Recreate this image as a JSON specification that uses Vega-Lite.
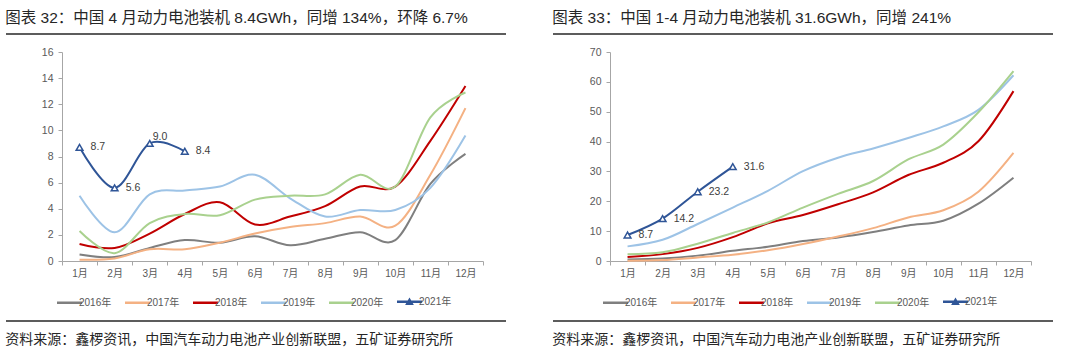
{
  "$schema": "https://vega.github.io/schema/vega-lite/v6.json",
  "background": "white",
  "padding": {"left": 5, "top": 10, "right": 0, "bottom": 0},
  "spacing": 45,
  "config": {
    "font": "Liberation Sans, Noto Sans CJK SC",
    "view": {"stroke": null},
    "title": {"anchor": "start", "fontWeight": "normal", "color": "#262626", "font": "Liberation Sans, Noto Sans CJK SC"},
    "axis": {"domainColor": "#A6A6A6", "tickColor": "#A6A6A6", "labelColor": "#595959", "grid": false, "title": null, "tickSize": 4, "labelOverlap": false, "labelFont": "Liberation Sans, Noto Sans CJK SC"},
    "legend": {"labelFont": "Liberation Sans, Noto Sans CJK SC"}
  },
  "resolve": {"scale": {"color": "independent", "x": "independent", "y": "independent"}, "legend": {"color": "independent"}},
  "datasets": {
    "monthly": [
      {"month": "1月", "year": "2016年", "value": 0.5}, {"month": "2月", "year": "2016年", "value": 0.3}, {"month": "3月", "year": "2016年", "value": 1.0}, {"month": "4月", "year": "2016年", "value": 1.6}, {"month": "5月", "year": "2016年", "value": 1.4}, {"month": "6月", "year": "2016年", "value": 1.9}, {"month": "7月", "year": "2016年", "value": 1.2}, {"month": "8月", "year": "2016年", "value": 1.7}, {"month": "9月", "year": "2016年", "value": 2.2}, {"month": "10月", "year": "2016年", "value": 1.6}, {"month": "11月", "year": "2016年", "value": 5.9}, {"month": "12月", "year": "2016年", "value": 8.2},
      {"month": "1月", "year": "2017年", "value": 0.1}, {"month": "2月", "year": "2017年", "value": 0.2}, {"month": "3月", "year": "2017年", "value": 0.9}, {"month": "4月", "year": "2017年", "value": 0.9}, {"month": "5月", "year": "2017年", "value": 1.4}, {"month": "6月", "year": "2017年", "value": 2.1}, {"month": "7月", "year": "2017年", "value": 2.6}, {"month": "8月", "year": "2017年", "value": 2.9}, {"month": "9月", "year": "2017年", "value": 3.4}, {"month": "10月", "year": "2017年", "value": 2.7}, {"month": "11月", "year": "2017年", "value": 6.6}, {"month": "12月", "year": "2017年", "value": 11.7},
      {"month": "1月", "year": "2018年", "value": 1.3}, {"month": "2月", "year": "2018年", "value": 1.0}, {"month": "3月", "year": "2018年", "value": 2.1}, {"month": "4月", "year": "2018年", "value": 3.6}, {"month": "5月", "year": "2018年", "value": 4.5}, {"month": "6月", "year": "2018年", "value": 2.8}, {"month": "7月", "year": "2018年", "value": 3.4}, {"month": "8月", "year": "2018年", "value": 4.2}, {"month": "9月", "year": "2018年", "value": 5.7}, {"month": "10月", "year": "2018年", "value": 5.7}, {"month": "11月", "year": "2018年", "value": 9.2}, {"month": "12月", "year": "2018年", "value": 13.4},
      {"month": "1月", "year": "2019年", "value": 5.0}, {"month": "2月", "year": "2019年", "value": 2.2}, {"month": "3月", "year": "2019年", "value": 5.1}, {"month": "4月", "year": "2019年", "value": 5.4}, {"month": "5月", "year": "2019年", "value": 5.7}, {"month": "6月", "year": "2019年", "value": 6.6}, {"month": "7月", "year": "2019年", "value": 4.8}, {"month": "8月", "year": "2019年", "value": 3.4}, {"month": "9月", "year": "2019年", "value": 3.9}, {"month": "10月", "year": "2019年", "value": 3.9}, {"month": "11月", "year": "2019年", "value": 5.6}, {"month": "12月", "year": "2019年", "value": 9.6},
      {"month": "1月", "year": "2020年", "value": 2.3}, {"month": "2月", "year": "2020年", "value": 0.6}, {"month": "3月", "year": "2020年", "value": 2.9}, {"month": "4月", "year": "2020年", "value": 3.6}, {"month": "5月", "year": "2020年", "value": 3.5}, {"month": "6月", "year": "2020年", "value": 4.7}, {"month": "7月", "year": "2020年", "value": 5.0}, {"month": "8月", "year": "2020年", "value": 5.1}, {"month": "9月", "year": "2020年", "value": 6.6}, {"month": "10月", "year": "2020年", "value": 5.7}, {"month": "11月", "year": "2020年", "value": 11.0}, {"month": "12月", "year": "2020年", "value": 12.9},
      {"month": "1月", "year": "2021年", "value": 8.7}, {"month": "2月", "year": "2021年", "value": 5.6}, {"month": "3月", "year": "2021年", "value": 9.0}, {"month": "4月", "year": "2021年", "value": 8.4}
    ],
    "cumulative": [
      {"month": "1月", "year": "2016年", "value": 0.5}, {"month": "2月", "year": "2016年", "value": 0.8}, {"month": "3月", "year": "2016年", "value": 1.8}, {"month": "4月", "year": "2016年", "value": 3.4}, {"month": "5月", "year": "2016年", "value": 4.8}, {"month": "6月", "year": "2016年", "value": 6.7}, {"month": "7月", "year": "2016年", "value": 7.9}, {"month": "8月", "year": "2016年", "value": 9.7}, {"month": "9月", "year": "2016年", "value": 11.9}, {"month": "10月", "year": "2016年", "value": 13.5}, {"month": "11月", "year": "2016年", "value": 19.2}, {"month": "12月", "year": "2016年", "value": 27.9},
      {"month": "1月", "year": "2017年", "value": 0.1}, {"month": "2月", "year": "2017年", "value": 0.3}, {"month": "3月", "year": "2017年", "value": 1.2}, {"month": "4月", "year": "2017年", "value": 2.1}, {"month": "5月", "year": "2017年", "value": 3.6}, {"month": "6月", "year": "2017年", "value": 5.7}, {"month": "7月", "year": "2017年", "value": 8.2}, {"month": "8月", "year": "2017年", "value": 11.0}, {"month": "9月", "year": "2017年", "value": 14.6}, {"month": "10月", "year": "2017年", "value": 17.0}, {"month": "11月", "year": "2017年", "value": 23.2}, {"month": "12月", "year": "2017年", "value": 36.2},
      {"month": "1月", "year": "2018年", "value": 1.3}, {"month": "2月", "year": "2018年", "value": 2.3}, {"month": "3月", "year": "2018年", "value": 4.4}, {"month": "4月", "year": "2018年", "value": 8.0}, {"month": "5月", "year": "2018年", "value": 12.6}, {"month": "6月", "year": "2018年", "value": 15.4}, {"month": "7月", "year": "2018年", "value": 19.0}, {"month": "8月", "year": "2018年", "value": 23.0}, {"month": "9月", "year": "2018年", "value": 28.8}, {"month": "10月", "year": "2018年", "value": 32.9}, {"month": "11月", "year": "2018年", "value": 40.1}, {"month": "12月", "year": "2018年", "value": 56.9},
      {"month": "1月", "year": "2019年", "value": 4.9}, {"month": "2月", "year": "2019年", "value": 7.1}, {"month": "3月", "year": "2019年", "value": 12.4}, {"month": "4月", "year": "2019年", "value": 17.9}, {"month": "5月", "year": "2019年", "value": 23.5}, {"month": "6月", "year": "2019年", "value": 30.1}, {"month": "7月", "year": "2019年", "value": 34.6}, {"month": "8月", "year": "2019年", "value": 37.7}, {"month": "9月", "year": "2019年", "value": 41.2}, {"month": "10月", "year": "2019年", "value": 45.1}, {"month": "11月", "year": "2019年", "value": 50.6}, {"month": "12月", "year": "2019年", "value": 62.2},
      {"month": "1月", "year": "2020年", "value": 2.3}, {"month": "2月", "year": "2020年", "value": 2.9}, {"month": "3月", "year": "2020年", "value": 5.8}, {"month": "4月", "year": "2020年", "value": 9.4}, {"month": "5月", "year": "2020年", "value": 12.9}, {"month": "6月", "year": "2020年", "value": 17.9}, {"month": "7月", "year": "2020年", "value": 22.5}, {"month": "8月", "year": "2020年", "value": 26.8}, {"month": "9月", "year": "2020年", "value": 34.0}, {"month": "10月", "year": "2020年", "value": 39.0}, {"month": "11月", "year": "2020年", "value": 49.8}, {"month": "12月", "year": "2020年", "value": 63.6},
      {"month": "1月", "year": "2021年", "value": 8.7}, {"month": "2月", "year": "2021年", "value": 14.2}, {"month": "3月", "year": "2021年", "value": 23.2}, {"month": "4月", "year": "2021年", "value": 31.6}
    ]
  },
  "hconcat": [
    {
      "title": {"text": "图表 32：中国 4 月动力电池装机 8.4GWh，同增 134%，环降 6.7%", "fontSize": 15.5, "offset": 7},
      "vconcat": [
        {
          "width": 500,
          "height": 287,
          "title": {"text": "资料来源：鑫椤资讯，中国汽车动力电池产业创新联盟，五矿证券研究所", "orient": "bottom", "anchor": "start", "fontSize": 14, "offset": 11},
          "layer": [
            {
              "data": {"name": "monthly"},
              "mark": {"type": "line", "interpolate": "cardinal", "strokeWidth": 2},
              "encoding": {
                "x": {"field": "month", "type": "ordinal", "sort": ["1月","2月","3月","4月","5月","6月","7月","8月","9月","10月","11月","12月"], "bandPosition": 0.5,
                      "scale": {"type": "band", "domain": ["1月","2月","3月","4月","5月","6月","7月","8月","9月","10月","11月","12月"], "range": [56, 477], "paddingInner": 0, "paddingOuter": 0},
                      "axis": {"labelAngle": 0, "tickBand": "extent", "offset": -60, "labelFontSize": 10, "labelPadding": 3}},
                "y": {"field": "value", "type": "quantitative", "scale": {"domain": [0, 16], "range": [227, 18], "nice": false, "zero": false},
                      "axis": {"values": [0, 2, 4, 6, 8, 10, 12, 14, 16], "tickCount": 9, "labelOverlap": false, "offset": -56, "labelFontSize": 10.5, "labelPadding": 5}},
                "color": {"field": "year", "type": "nominal",
                          "scale": {"domain": ["2016年","2017年","2018年","2019年","2020年","2021年"], "range": ["#7F7F7F","#F4B183","#C00000","#9DC3E6","#A9D18E","#2F5597"]},
                          "legend": {"orient": "none", "legendX": 56, "legendY": 260, "direction": "horizontal", "title": null, "labelFontSize": 10, "labelColor": "#595959", "symbolSize": 156, "symbolStrokeWidth": 2.5, "labelOffset": 2, "columnPadding": 8, "symbolType": "M-2,0H2",
                                     "encode": {"symbols": {"update": {"fill": {"value": "white"}, "shape": {"signal": "datum.value === '2021年' ? 'M-2,0H2M-0.35,0.3L0,-0.3L0.35,0.3Z' : 'M-2,0H2'"}}}}}}
              }
            },
            {"data": {"values": [{}]}, "mark": {"type": "rule", "color": "#262626", "strokeWidth": 1.5}, "encoding": {"y": {"datum": 17.378, "type": "quantitative"}}},
            {"data": {"values": [{}]}, "mark": {"type": "rule", "color": "#262626", "strokeWidth": 1.5}, "encoding": {"y": {"datum": -4.593, "type": "quantitative"}}},
            {
              "data": {"name": "monthly"},
              "transform": [{"filter": "datum.year === '2021年'"}],
              "mark": {"type": "point", "shape": "triangle-up", "filled": true, "fill": "white", "stroke": "#2F5597", "strokeWidth": 1.5, "size": 45, "opacity": 1},
              "encoding": {
                "x": {"field": "month", "type": "ordinal", "sort": ["1月","2月","3月","4月","5月","6月","7月","8月","9月","10月","11月","12月"], "bandPosition": 0.5},
                "y": {"field": "value", "type": "quantitative"}
              }
            },
            {
              "data": {"name": "monthly"},
              "transform": [{"filter": "datum.year === '2021年' && datum.month !== '3月'"}],
              "mark": {"type": "text", "align": "left", "baseline": "middle", "dx": 11, "fontSize": 10.5, "color": "#404040"},
              "encoding": {
                "x": {"field": "month", "type": "ordinal", "sort": ["1月","2月","3月","4月","5月","6月","7月","8月","9月","10月","11月","12月"], "bandPosition": 0.5},
                "y": {"field": "value", "type": "quantitative"},
                "text": {"field": "value", "type": "quantitative", "format": ".1f"}
              }
            },
            {
              "data": {"name": "monthly"},
              "transform": [{"filter": "datum.year === '2021年' && datum.month === '3月'"}],
              "mark": {"type": "text", "align": "left", "baseline": "middle", "dx": 3, "dy": -6, "fontSize": 10.5, "color": "#404040"},
              "encoding": {
                "x": {"field": "month", "type": "ordinal", "sort": ["1月","2月","3月","4月","5月","6月","7月","8月","9月","10月","11月","12月"], "bandPosition": 0.5},
                "y": {"field": "value", "type": "quantitative"},
                "text": {"field": "value", "type": "quantitative", "format": ".1f"}
              }
            }
          ]
        }
      ]
    },
    {
      "title": {"text": "图表 33：中国 1-4 月动力电池装机 31.6GWh，同增 241%", "fontSize": 15.5, "offset": 7},
      "vconcat": [
        {
          "width": 500,
          "height": 287,
          "title": {"text": "资料来源：鑫椤资讯，中国汽车动力电池产业创新联盟，五矿证券研究所", "orient": "bottom", "anchor": "start", "fontSize": 14, "offset": 11},
          "layer": [
            {
              "data": {"name": "cumulative"},
              "mark": {"type": "line", "interpolate": "cardinal", "strokeWidth": 2},
              "encoding": {
                "x": {"field": "month", "type": "ordinal", "sort": ["1月","2月","3月","4月","5月","6月","7月","8月","9月","10月","11月","12月"], "bandPosition": 0.5,
                      "scale": {"type": "band", "domain": ["1月","2月","3月","4月","5月","6月","7月","8月","9月","10月","11月","12月"], "range": [57, 478], "paddingInner": 0, "paddingOuter": 0},
                      "axis": {"labelAngle": 0, "tickBand": "extent", "offset": -60, "labelFontSize": 10, "labelPadding": 3}},
                "y": {"field": "value", "type": "quantitative", "scale": {"domain": [0, 70], "range": [227, 18], "nice": false, "zero": false},
                      "axis": {"values": [0, 10, 20, 30, 40, 50, 60, 70], "tickCount": 8, "labelOverlap": false, "offset": -57, "labelFontSize": 10.5, "labelPadding": 5}},
                "color": {"field": "year", "type": "nominal",
                          "scale": {"domain": ["2016年","2017年","2018年","2019年","2020年","2021年"], "range": ["#7F7F7F","#F4B183","#C00000","#9DC3E6","#A9D18E","#2F5597"]},
                          "legend": {"orient": "none", "legendX": 55, "legendY": 260, "direction": "horizontal", "title": null, "labelFontSize": 10, "labelColor": "#595959", "symbolSize": 156, "symbolStrokeWidth": 2.5, "labelOffset": 2, "columnPadding": 8, "symbolType": "M-2,0H2",
                                     "encode": {"symbols": {"update": {"fill": {"value": "white"}, "shape": {"signal": "datum.value === '2021年' ? 'M-2,0H2M-0.35,0.3L0,-0.3L0.35,0.3Z' : 'M-2,0H2'"}}}}}}
              }
            },
            {"data": {"values": [{}]}, "mark": {"type": "rule", "color": "#262626", "strokeWidth": 1.5}, "encoding": {"y": {"datum": 76.03, "type": "quantitative"}}},
            {"data": {"values": [{}]}, "mark": {"type": "rule", "color": "#262626", "strokeWidth": 1.5}, "encoding": {"y": {"datum": -20.096, "type": "quantitative"}}},
            {
              "data": {"name": "cumulative"},
              "transform": [{"filter": "datum.year === '2021年'"}],
              "mark": {"type": "point", "shape": "triangle-up", "filled": true, "fill": "white", "stroke": "#2F5597", "strokeWidth": 1.5, "size": 45, "opacity": 1},
              "encoding": {
                "x": {"field": "month", "type": "ordinal", "sort": ["1月","2月","3月","4月","5月","6月","7月","8月","9月","10月","11月","12月"], "bandPosition": 0.5},
                "y": {"field": "value", "type": "quantitative"}
              }
            },
            {
              "data": {"name": "cumulative"},
              "transform": [{"filter": "datum.year === '2021年'"}],
              "mark": {"type": "text", "align": "left", "baseline": "middle", "dx": 11, "fontSize": 10.5, "color": "#404040"},
              "encoding": {
                "x": {"field": "month", "type": "ordinal", "sort": ["1月","2月","3月","4月","5月","6月","7月","8月","9月","10月","11月","12月"], "bandPosition": 0.5},
                "y": {"field": "value", "type": "quantitative"},
                "text": {"field": "value", "type": "quantitative", "format": ".1f"}
              }
            }
          ]
        }
      ]
    }
  ]
}
